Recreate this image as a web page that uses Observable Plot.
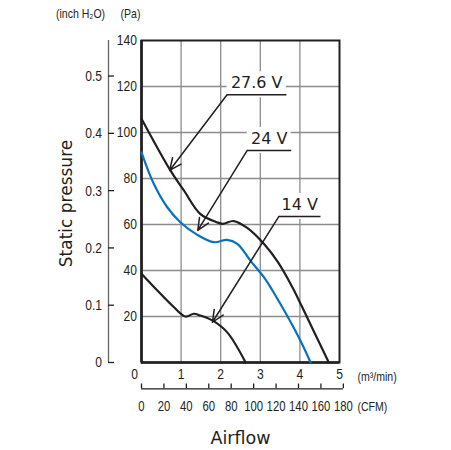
<!DOCTYPE html>
<html><head><meta charset="utf-8">
<script src="https://cdn.jsdelivr.net/npm/d3@7"></script>
<script src="https://cdn.jsdelivr.net/npm/@observablehq/plot@0.6"></script>
<style>body{margin:0;background:#fff}</style>
</head><body><div id="chart"></div>
<script>
// Airflow (m³/min) and static pressure (Pa)
const flow276 = [0, 0.73, 1.07, 1.49, 1.9, 2.05, 2.33, 2.67, 3.09, 3.45, 3.81, 4.06, 4.73];
const pres276 = [106, 83.5, 74.8, 64.5, 61, 60.3, 61.5, 58.5, 51.6, 43.5, 32.7, 24, 0];
const flow24 = [0, 0.31, 0.65, 0.98, 1.41, 1.83, 2.16, 2.42, 2.75, 3.09, 3.3, 3.97, 4.27];
const pres24 = [91.4, 77.7, 67.5, 61, 55.5, 52.3, 53.3, 51.6, 44.3, 37.1, 31.5, 11, 0];
const flow14 = [0, 0.4, 0.82, 1.11, 1.32, 1.49, 1.79, 2.16, 2.63];
const pres14 = [38.6, 31.3, 24, 20, 21.2, 20.4, 18.3, 13.2, 0];

// Tick values / labels
const m3Ticks = [0, 1, 2, 3, 4, 5];
const paTicks = [20, 40, 60, 80, 100, 120, 140];
const inchTicks = [0, 0.1, 0.2, 0.3, 0.4, 0.5];
const inchLabels = ["0", "0.1", "0.2", "0.3", "0.4", "0.5"];
const cfmTicks = [0, 20, 40, 60, 80, 100, 120, 140, 160, 180];
const gridX = [1, 2, 3, 4];
const gridY = [20, 40, 60, 80, 100, 120];

// Annotations (data coordinates)
const annLabels = ["27.6 V", "24 V", "14 V"];
const annStartX = [2.16, 2.67, 3.47];
const annEndX = [3.66, 3.78, 4.52];
const annLineY = [116.4, 92.2, 63.5];
const annTipX = [0.71, 1.42, 1.79];
const annTipY = [83.5, 57.4, 17.5];

const PA_PER_INCH = 249.089;
const M3_PER_CFM = 0.0283168;

const series = (name, xs, ys) => xs.map((x, i) => ({name, x, y: ys[i]}));
const s276 = series("27.6 V", flow276, pres276);
const s24 = series("24 V", flow24, pres24);
const s14 = series("14 V", flow14, pres14);
const ann = annLabels.map((label, i) => ({label, x1: annStartX[i], x2: annEndX[i], y: annLineY[i], tx: annTipX[i], ty: annTipY[i]}));
const inchData = inchTicks.map((v, i) => ({pa: v * PA_PER_INCH, label: inchLabels[i]}));

const NARROW = "Liberation Sans, Arial, sans-serif";
const WIDE = "'DejaVu Sans', sans-serif";
const INK = "#231f20";
const GRID = "#8c8c8c";
const nt = {fontFamily: NARROW, fill: INK, lineAnchor: "middle"};

const chart = Plot.plot({
  width: 451, height: 450,
  marginLeft: 141, marginRight: 112, marginTop: 40, marginBottom: 88,
  x: {domain: [0, 5], axis: null},
  y: {domain: [0, 140], axis: null},
  style: {color: INK, background: "white", overflow: "visible"},
  marks: [
    Plot.ruleX(gridX, {stroke: GRID, strokeWidth: 1.3}),
    Plot.ruleY(gridY, {stroke: GRID, strokeWidth: 1.3}),
    Plot.rect(ann, {x1: "x1", x2: "x2", y1: d => d.y - 1.3, y2: d => d.y + 10, fill: "white"}),
    Plot.frame({stroke: INK, strokeWidth: 2}),
    Plot.ruleX([0], {stroke: INK, strokeWidth: 2.6}),
    Plot.ruleY([0], {stroke: INK, strokeWidth: 2.6}),
    // curves
    Plot.line(s276, {x: "x", y: "y", stroke: INK, strokeWidth: 2.2, curve: "catmull-rom"}),
    Plot.line(s24, {x: "x", y: "y", stroke: "#0a72bd", strokeWidth: 2.2, curve: "catmull-rom"}),
    Plot.line(s14, {x: "x", y: "y", stroke: INK, strokeWidth: 2.2, curve: "catmull-rom"}),
    // annotations
    Plot.link(ann, {x1: "x1", x2: "x2", y1: "y", y2: "y", stroke: INK, strokeWidth: 1.5}),
    Plot.arrow(ann, {x1: "x1", y1: "y", x2: "tx", y2: "ty", stroke: INK, strokeWidth: 1.5, headLength: 13, headAngle: 48}),
    Plot.text(ann, {x: d => (d.x1 + d.x2) / 2, y: "y", text: "label", dy: -12, fontSize: 16, fontFamily: WIDE, fill: INK}),
    // Pa axis labels
    Plot.text(paTicks, {y: d => d, frameAnchor: "left", dx: -4.5, textAnchor: "end", fontSize: 15.5, ...nt}),
    // inch H2O axis
    Plot.ruleX([0], {y1: 0, y2: 140, dx: -33, stroke: "#666", strokeWidth: 1.3}),
    Plot.tickY(inchData, {y: "pa", insetLeft: -33, insetRight: 225, stroke: INK, strokeWidth: 1.3}),
    Plot.text(inchData, {y: "pa", text: "label", frameAnchor: "left", dx: -39.5, textAnchor: "end", fontSize: 15.5, ...nt}),
    // m3/min axis labels
    Plot.text(m3Ticks.filter(d => d > 0), {x: d => d, frameAnchor: "bottom", dy: 11.5, textAnchor: "middle", fontSize: 15.5, ...nt}),
    Plot.text(m3Ticks.filter(d => d === 0), {x: d => d, frameAnchor: "bottom", dx: -7, dy: 11.5, textAnchor: "middle", fontSize: 15.5, ...nt}),
    // CFM axis
    Plot.ruleY([0], {x1: 0, x2: cfmTicks[cfmTicks.length - 1] * M3_PER_CFM, dy: 26.3, stroke: INK, strokeWidth: 1.3}),
    Plot.tickX(cfmTicks, {x: d => d * M3_PER_CFM, insetTop: 343.5, insetBottom: -26.3, stroke: INK, strokeWidth: 1.3}),
    Plot.text(cfmTicks, {x: d => d * M3_PER_CFM, frameAnchor: "bottom", dy: 43.7, textAnchor: "middle", fontSize: 14.5, ariaLabel: "cfm-labels", ...nt}),
    // unit labels
    Plot.text(["(inch H\u2082O)"], {frameAnchor: "top-left", dx: -61, dy: -27, textAnchor: "middle", fontSize: 13.5, ...nt}),
    Plot.text(["(Pa)"], {frameAnchor: "top-left", dx: -11, dy: -27, textAnchor: "middle", fontSize: 13.5, ...nt}),
    Plot.text(["(m\u00b3/min)"], {frameAnchor: "bottom-right", dx: 18, dy: 14, textAnchor: "start", fontSize: 13.5, ...nt}),
    Plot.text(["(CFM)"], {frameAnchor: "bottom-right", dx: 18, dy: 44, textAnchor: "start", fontSize: 13.5, ...nt}),
    // axis titles
    Plot.text(["Static pressure"], {frameAnchor: "left", dx: -75, dy: 2, rotate: -90, textAnchor: "middle", lineAnchor: "middle", fontSize: 17, fontFamily: WIDE, fill: INK}),
    Plot.text(["Airflow"], {frameAnchor: "bottom", dy: 76, textAnchor: "middle", lineAnchor: "middle", fontSize: 17.5, fontFamily: WIDE, fill: INK})
  ]
});
document.getElementById("chart").appendChild(chart);
// condense the narrow-font labels horizontally (the reference uses a condensed face)
d3.select(chart).selectAll("g[font-family^='Liberation Sans'] text").each(function () {
  const w = this.getComputedTextLength();
  const cfm = this.parentNode.getAttribute("aria-label") === "cfm-labels";
  const target = cfm ? Math.min(w * 0.78, 18) : w * 0.78;
  this.setAttribute("textLength", target.toFixed(2));
  this.setAttribute("lengthAdjust", "spacingAndGlyphs");
});
</script>
</body></html>
